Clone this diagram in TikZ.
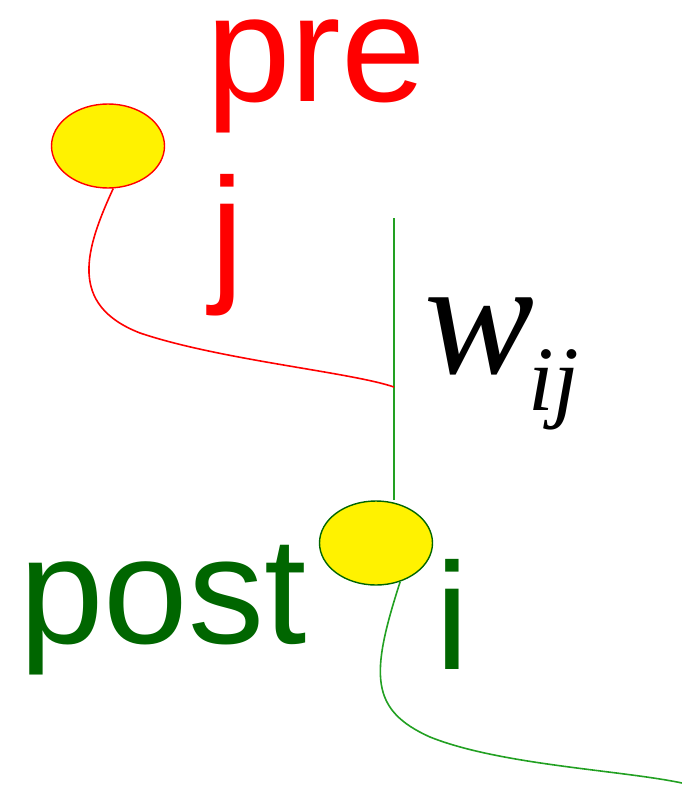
\documentclass[tikz,border=0pt]{standalone}
\usepackage{fontspec}
\setmainfont{Liberation Sans}
\newfontfamily\timesfam{Liberation Serif}
\usetikzlibrary{shapes.geometric}
\definecolor{dkgreen}{HTML}{006600}
\definecolor{lngreen}{HTML}{22A022}
\tikzset{
  big/.style={inner sep=0pt, anchor=base west, font=\fontsize{152pt}{160pt}\selectfont},
  soma/.style={ellipse, fill=yellow, line width=1.4pt, minimum width=113pt, minimum height=84pt, inner sep=0pt},
  axon/.style={line width=1.6pt},
}
\begin{document}
\begin{tikzpicture}[x=1pt,y=-1pt]
\useasboundingbox (0,0) rectangle (682,789);
% labels
\node[big, text=red, text height=80pt] (pre) at (206,102) {pre};
\node[big, text=red] (jl) at (210,284) {j};
\node[big, text=dkgreen] (post) at (19,643) {post};
\node[big, text=dkgreen] (il) at (435,669) {i};
\node[inner sep=0pt, anchor=base west, text width=100pt, font=\timesfam\itshape\fontsize{165pt}{170pt}\selectfont] (w) at (424,373) {w};
\node[inner sep=0pt, anchor=base west, font=\timesfam\itshape\fontsize{92pt}{96pt}\selectfont] (ij) at (528,410) {ij};
% neurons
\node[soma, draw=red] (j) at (108,146) {};
\node[soma, draw=dkgreen] (i) at (376,543) {};
% synapse line
\coordinate (wtop) at (394,218);
\coordinate (syn) at (394,387);
\draw[axon, lngreen] (wtop) -- (wtop |- i.north);
% presynaptic axon
\draw[axon, red] (j.-83) .. controls (85,250) and (68,305) .. (140,333)
  .. controls (220,360) and (350,372) .. (syn);
% postsynaptic axon
\coordinate (outend) at (682,783);
\draw[axon, lngreen] (i.-58) .. controls (370,675) and (370,710) .. (430,737)
  .. controls (500,765) and (620,770) .. (outend);
\end{tikzpicture}
\end{document}
